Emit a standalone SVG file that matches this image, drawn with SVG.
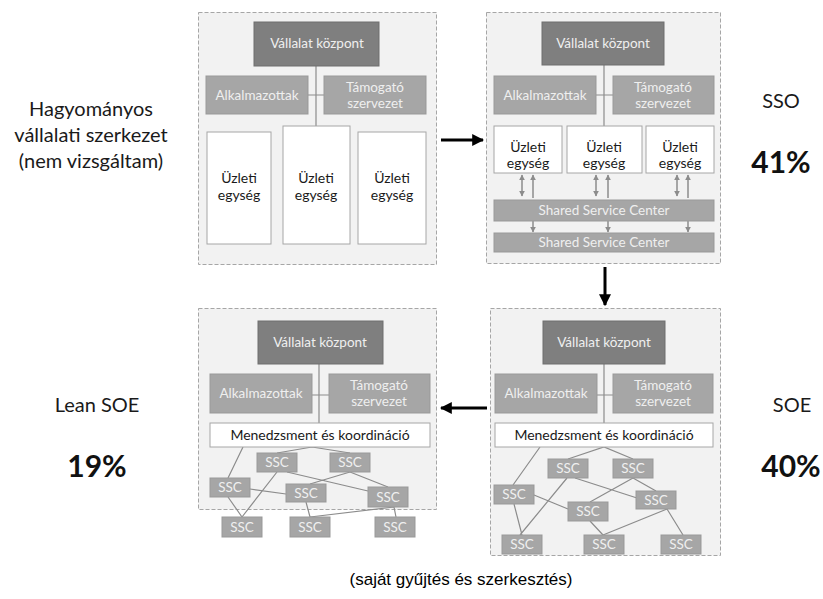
<svg xmlns="http://www.w3.org/2000/svg" width="823" height="599" viewBox="0 0 823 599">
<style>
.panel{fill:#f2f2f2;stroke:#a6a6a6;stroke-width:1;stroke-dasharray:4 2}
.hq{fill:#7f7f7f;stroke:#6f6f6f}
.mid{fill:#a6a6a6;stroke:#999}
.biz{fill:#fff;stroke:#a6a6a6}
.t{font-family:Lato,"Liberation Sans",sans-serif;text-anchor:middle}
.lt{fill:#efefef;font-size:13.5px}
.dk{fill:#1a1a1a;font-size:14px}
.side{font-family:Lato,"Liberation Sans",sans-serif;text-anchor:middle;font-size:20px;fill:#1a1a1a}
.pct{font-family:Lato,"Liberation Sans",sans-serif;text-anchor:middle;font-size:30px;font-weight:bold;fill:#111}
.link{stroke:#8c8c8c;stroke-width:1.2;fill:none}
.sm{stroke:#8c8c8c;stroke-width:1.5;fill:none}
.big{stroke:#000;stroke-width:3;fill:none}
</style>
<defs>
<marker id="ah" viewBox="0 0 10 10" refX="9" refY="5" markerWidth="4" markerHeight="4" orient="auto-start-reverse"><path d="M0,0L10,5L0,10z" fill="#000"/></marker>
<marker id="sa" viewBox="0 0 10 10" refX="9" refY="5" markerWidth="4" markerHeight="4" orient="auto-start-reverse"><path d="M0,0L10,5L0,10z" fill="#8c8c8c"/></marker>
</defs>

<!-- panels -->
<rect class="panel" x="198.5" y="12.5" width="238" height="252"/>
<rect class="panel" x="486.5" y="12.5" width="234" height="251"/>
<rect class="panel" x="198.5" y="308.5" width="238" height="201"/>
<rect class="panel" x="490.5" y="308.5" width="230" height="247"/>

<g id="connectors">
<!-- top-left -->
<path class="link" d="M316,66V126M308,95H324"/>
<!-- top-right -->
<path class="link" d="M604,65V126M596,95H613"/>
<path class="sm" d="M522,175V196" marker-start="url(#sa)" marker-end="url(#sa)"/>
<path class="sm" d="M533,198V175" marker-end="url(#sa)"/>
<path class="sm" d="M596,175V196" marker-start="url(#sa)" marker-end="url(#sa)"/>
<path class="sm" d="M608,198V175" marker-end="url(#sa)"/>
<path class="sm" d="M677,175V196" marker-start="url(#sa)" marker-end="url(#sa)"/>
<path class="sm" d="M688,198V175" marker-end="url(#sa)"/>
<path class="sm" d="M533,221V232" marker-end="url(#sa)"/>
<path class="sm" d="M608,221V232" marker-end="url(#sa)"/>
<path class="sm" d="M688,221V232" marker-end="url(#sa)"/>
<!-- bottom-left -->
<path class="link" d="M319,364V423M312,395H329"/>
<path class="link" d="M243,447L228,478M277,453L312,447L350,453M277,472L242,517M287,472L368,491M350,472L310,484M350,472L388,487M250,489L286,494M228,497L242,517M306,502L310,517M310,517L394,507M394,507L396,517"/>
<!-- bottom-right -->
<path class="link" d="M604,364V423M597,395H613"/>
<path class="link" d="M540,447L513,485M568,459L604,447L633,459M567,478L520,535M575,478L637,498M633,478L590,502M633,478L656,491M534,495L568,509M514,504L522,535M590,521L603,535M603,535L667,509M667,509L683,535"/>
<!-- big arrows -->
<path class="big" d="M441,140H483" marker-end="url(#ah)"/>
<path class="big" d="M605,267V305" marker-end="url(#ah)"/>
<path class="big" d="M487,408H441" marker-end="url(#ah)"/>
</g>

<!-- top-left nodes -->
<g id="tl-hq"><rect class="hq" x="254" y="22" width="125" height="44"/><text class="t lt" x="317" y="48">Vállalat központ</text></g>
<g id="tl-alk"><rect class="mid" x="206" y="76" width="102" height="38"/><text class="t lt" x="257" y="100">Alkalmazottak</text></g>
<g id="tl-tam"><rect class="mid" x="324" y="76" width="102" height="38"/><text class="t lt" x="375" y="92">Támogató</text><text class="t lt" x="375" y="108">szervezet</text></g>
<g id="tl-u1"><rect class="biz" x="207" y="132" width="64" height="112"/><text class="t dk" x="239" y="183">Üzleti</text><text class="t dk" x="239" y="200">egység</text></g>
<g id="tl-u2"><rect class="biz" x="283" y="126" width="67" height="118"/><text class="t dk" x="316" y="183">Üzleti</text><text class="t dk" x="316" y="200">egység</text></g>
<g id="tl-u3"><rect class="biz" x="358" y="132" width="68" height="112"/><text class="t dk" x="392" y="183">Üzleti</text><text class="t dk" x="392" y="200">egység</text></g>

<!-- top-right nodes -->
<g id="tr-hq"><rect class="hq" x="542" y="22" width="122" height="43"/><text class="t lt" x="603" y="48">Vállalat központ</text></g>
<g id="tr-alk"><rect class="mid" x="494" y="76" width="102" height="38"/><text class="t lt" x="545" y="100">Alkalmazottak</text></g>
<g id="tr-tam"><rect class="mid" x="613" y="76" width="101" height="38"/><text class="t lt" x="663" y="92">Támogató</text><text class="t lt" x="663" y="108">szervezet</text></g>
<g id="tr-u1"><rect class="biz" x="494" y="126" width="68" height="47"/><text class="t dk" x="528" y="152">Üzleti</text><text class="t dk" x="528" y="168">egység</text></g>
<g id="tr-u2"><rect class="biz" x="567" y="126" width="75" height="47"/><text class="t dk" x="604" y="152">Üzleti</text><text class="t dk" x="604" y="168">egység</text></g>
<g id="tr-u3"><rect class="biz" x="646" y="126" width="68" height="47"/><text class="t dk" x="680" y="152">Üzleti</text><text class="t dk" x="680" y="168">egység</text></g>
<g id="tr-ssc1"><rect class="mid" x="494" y="200" width="220" height="21"/><text class="t lt" x="604" y="215">Shared Service Center</text></g>
<g id="tr-ssc2"><rect class="mid" x="494" y="233" width="220" height="19"/><text class="t lt" x="604" y="247">Shared Service Center</text></g>

<!-- bottom-left nodes -->
<g id="bl-hq"><rect class="hq" x="258" y="321" width="125" height="43"/><text class="t lt" x="320" y="347">Vállalat központ</text></g>
<g id="bl-alk"><rect class="mid" x="210" y="374" width="102" height="39"/><text class="t lt" x="261" y="398">Alkalmazottak</text></g>
<g id="bl-tam"><rect class="mid" x="329" y="374" width="101" height="39"/><text class="t lt" x="379" y="390">Támogató</text><text class="t lt" x="379" y="406">szervezet</text></g>
<g id="bl-men"><rect class="biz" x="210" y="423" width="220" height="24"/><text class="t dk" x="320" y="440">Menedzsment és koordináció</text></g>
<g id="bl-s1"><rect class="mid" x="257" y="453" width="40" height="19"/><text class="t lt" x="277" y="467">SSC</text></g>
<g id="bl-s2"><rect class="mid" x="330" y="453" width="40" height="19"/><text class="t lt" x="350" y="467">SSC</text></g>
<g id="bl-s3"><rect class="mid" x="210" y="478" width="40" height="19"/><text class="t lt" x="230" y="492">SSC</text></g>
<g id="bl-s4"><rect class="mid" x="286" y="484" width="40" height="18"/><text class="t lt" x="306" y="498">SSC</text></g>
<g id="bl-s5"><rect class="mid" x="368" y="487" width="40" height="20"/><text class="t lt" x="388" y="502">SSC</text></g>
<g id="bl-s6"><rect class="mid" x="222" y="517" width="40" height="20"/><text class="t lt" x="242" y="532">SSC</text></g>
<g id="bl-s7"><rect class="mid" x="290" y="517" width="40" height="20"/><text class="t lt" x="310" y="532">SSC</text></g>
<g id="bl-s8"><rect class="mid" x="375" y="517" width="40" height="20"/><text class="t lt" x="395" y="532">SSC</text></g>

<!-- bottom-right nodes -->
<g id="br-hq"><rect class="hq" x="543" y="321" width="122" height="43"/><text class="t lt" x="604" y="347">Vállalat központ</text></g>
<g id="br-alk"><rect class="mid" x="495" y="374" width="102" height="39"/><text class="t lt" x="546" y="398">Alkalmazottak</text></g>
<g id="br-tam"><rect class="mid" x="613" y="374" width="100" height="39"/><text class="t lt" x="663" y="390">Támogató</text><text class="t lt" x="663" y="406">szervezet</text></g>
<g id="br-men"><rect class="biz" x="495" y="423" width="218" height="24"/><text class="t dk" x="604" y="440">Menedzsment és koordináció</text></g>
<g id="br-s1"><rect class="mid" x="548" y="459" width="40" height="19"/><text class="t lt" x="568" y="473">SSC</text></g>
<g id="br-s2"><rect class="mid" x="613" y="459" width="40" height="19"/><text class="t lt" x="633" y="473">SSC</text></g>
<g id="br-s3"><rect class="mid" x="494" y="485" width="40" height="19"/><text class="t lt" x="514" y="499">SSC</text></g>
<g id="br-s4"><rect class="mid" x="568" y="502" width="40" height="19"/><text class="t lt" x="588" y="516">SSC</text></g>
<g id="br-s5"><rect class="mid" x="636" y="491" width="40" height="18"/><text class="t lt" x="656" y="505">SSC</text></g>
<g id="br-s6"><rect class="mid" x="502" y="535" width="40" height="19"/><text class="t lt" x="522" y="549">SSC</text></g>
<g id="br-s7"><rect class="mid" x="584" y="535" width="40" height="19"/><text class="t lt" x="604" y="549">SSC</text></g>
<g id="br-s8"><rect class="mid" x="661" y="535" width="40" height="19"/><text class="t lt" x="681" y="549">SSC</text></g>

<!-- side labels -->
<g id="lbl-hagy"><text class="side" x="91" y="116">Hagyományos</text><text class="side" x="91" y="142">vállalati szerkezet</text><text class="side" x="91" y="168">(nem vizsgáltam)</text></g>
<g id="lbl-sso"><text class="side" x="781" y="108">SSO</text><text class="pct" x="781" y="173">41%</text></g>
<g id="lbl-lean"><text class="side" x="97" y="412">Lean SOE</text><text class="pct" x="97" y="477">19%</text></g>
<g id="lbl-soe"><text class="side" x="792" y="412">SOE</text><text class="pct" x="791" y="477">40%</text></g>
<text x="461" y="585" style="font-family:'Liberation Sans',Arial,sans-serif;font-size:17px;text-anchor:middle;fill:#000">(saját gyűjtés és szerkesztés)</text>
</svg>
